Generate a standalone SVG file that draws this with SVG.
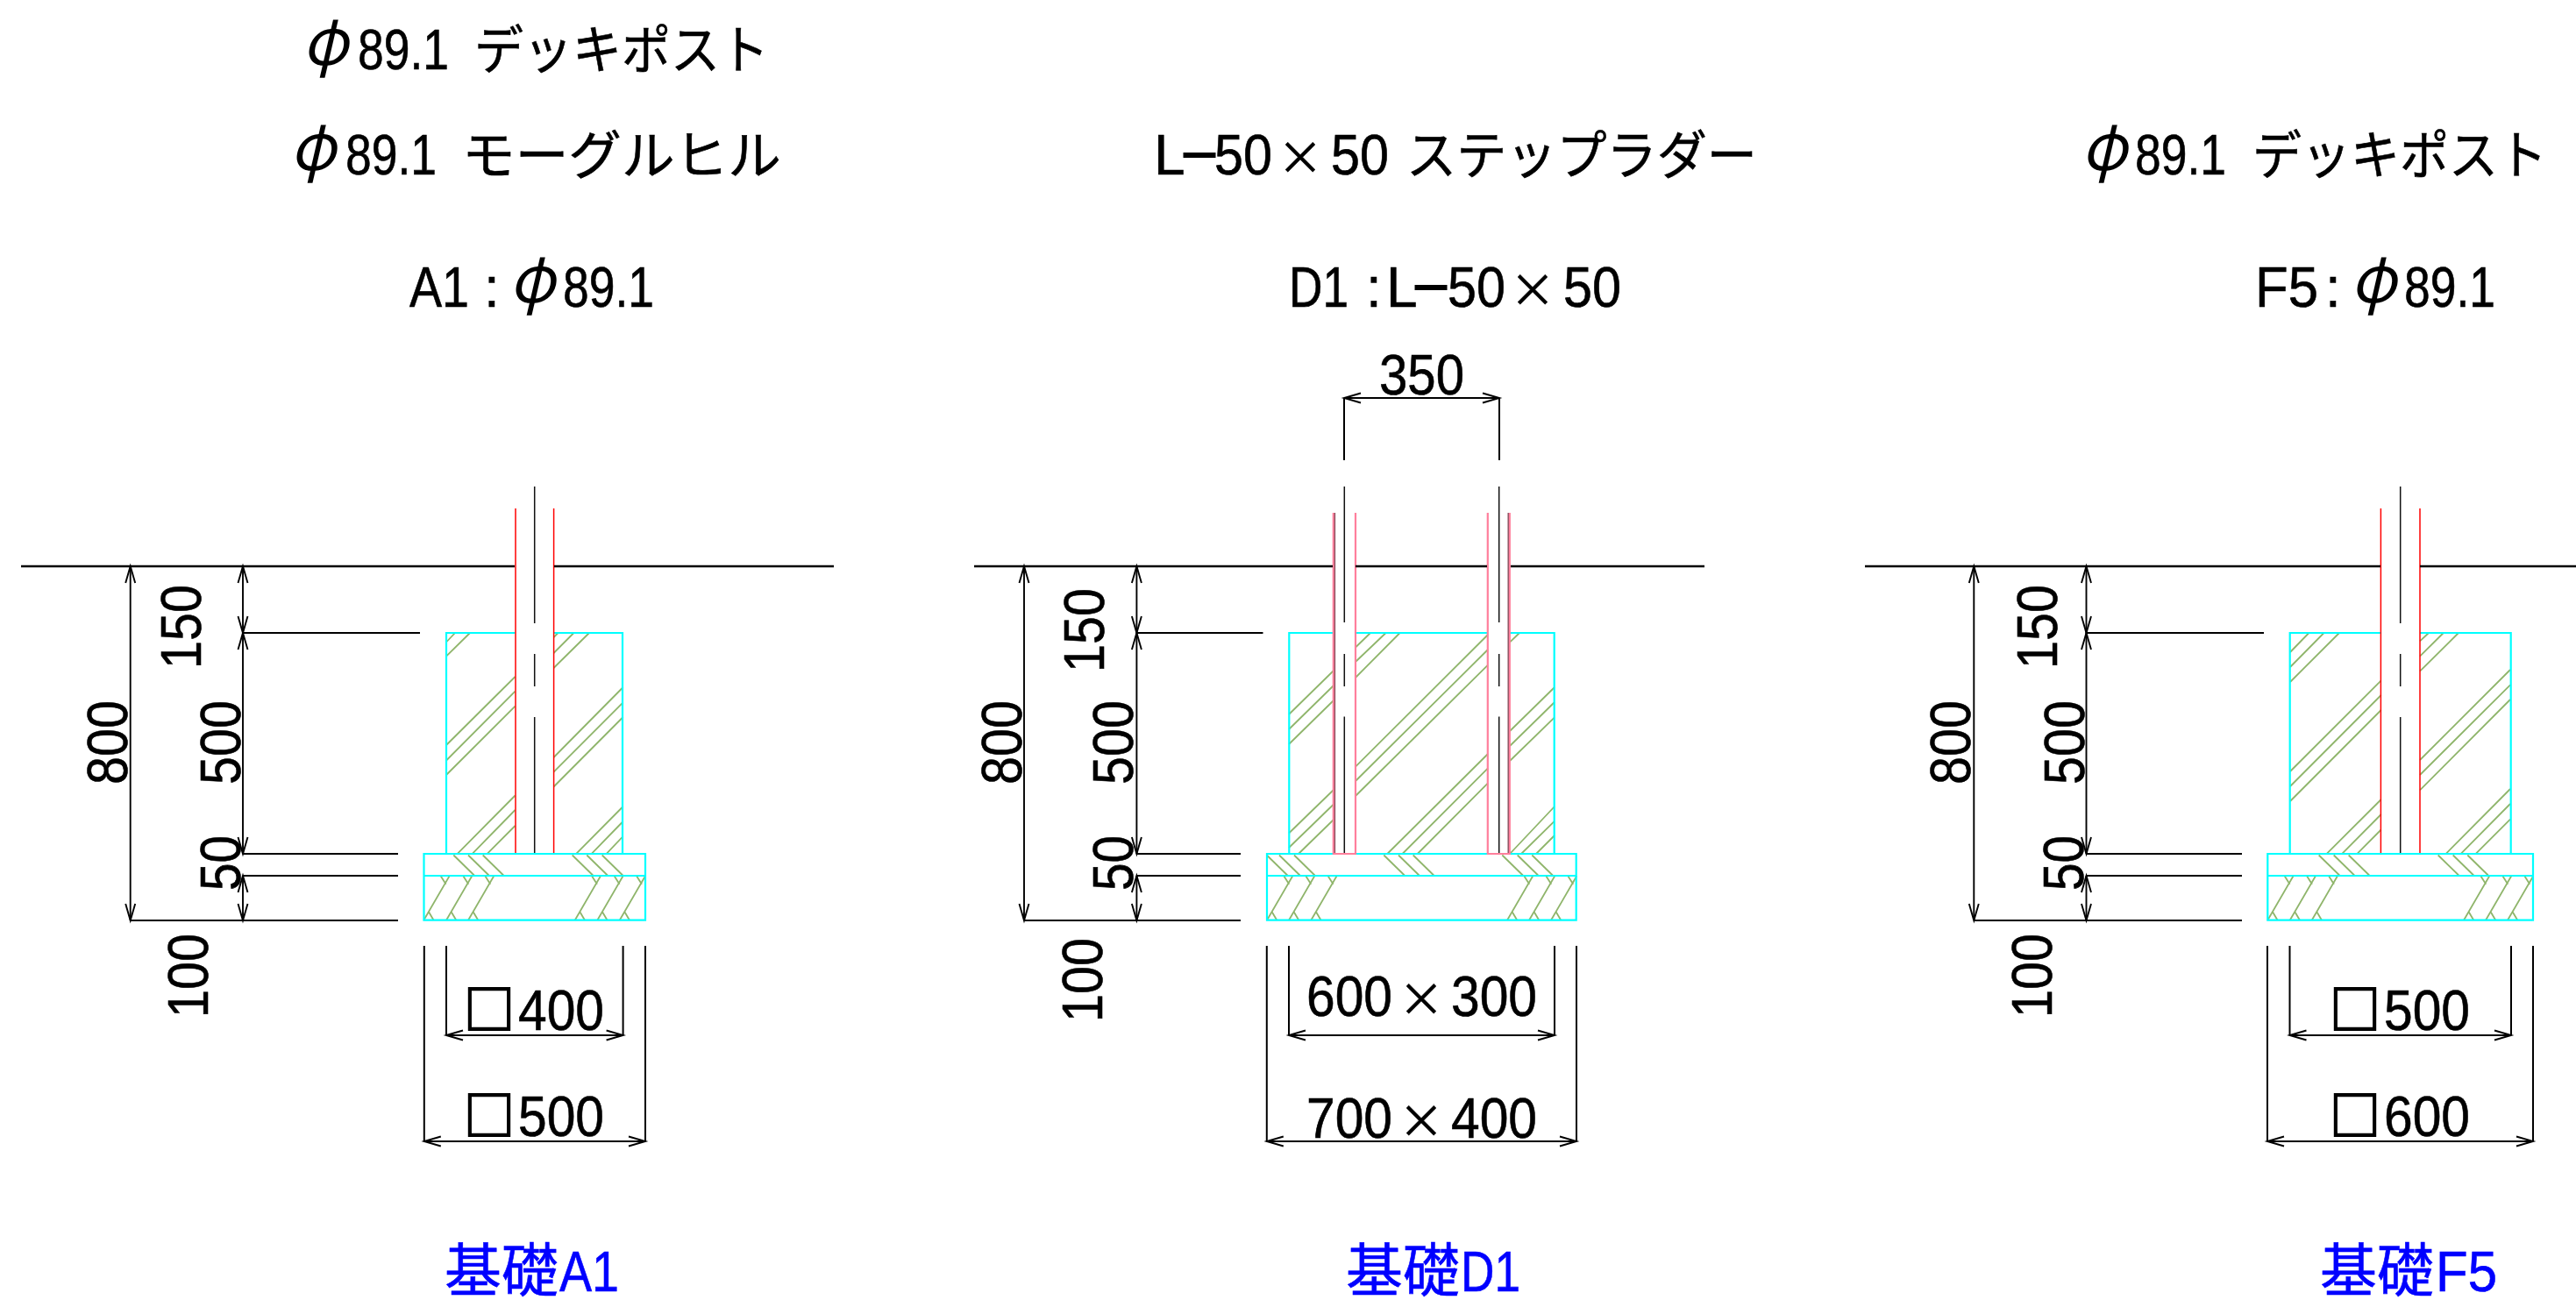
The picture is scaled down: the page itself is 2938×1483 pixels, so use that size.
<svg xmlns="http://www.w3.org/2000/svg" xmlns:xlink="http://www.w3.org/1999/xlink" width="2938" height="1483" viewBox="0 0 2938 1483">
<style>
text{font-family:"Liberation Sans","Noto Sans CJK JP",sans-serif;font-size:64px;fill:#000;stroke:#000;stroke-width:.6}
.c{font-family:"Noto Sans CJK JP",sans-serif;font-size:66px}
.k{font-family:"Noto Sans CJK JP",sans-serif;font-size:60px}
.m{font-family:"Noto Sans CJK JP",sans-serif;font-size:60px;stroke-width:2}
.x{font-family:"Noto Sans CJK JP",sans-serif;font-size:52px}
.q{font-family:"Noto Sans CJK JP",sans-serif;font-size:58px;stroke-width:2}
.p{font-family:"Noto Sans CJK JP",sans-serif;font-style:italic;font-size:74px;stroke-width:0}
text.b{fill:#00f;stroke:#00f}
.cy{fill:none;stroke:#0ff;stroke-width:2.2}
.ha{fill:none;stroke:#8fb56b;stroke-width:1.8}
.re{fill:none;stroke:#f00;stroke-width:1.5}
.pi{fill:none;stroke:#ff7f9c;stroke-width:2.2}
.gr{fill:none;stroke:#8a4a5a;stroke-width:1.4}
.cl{fill:none;stroke:#111;stroke-width:1.5}
.gl{fill:none;stroke:#000;stroke-width:2.4}
.ex{fill:none;stroke:#000;stroke-width:2}
.dm{fill:none;stroke:#000;stroke-width:1.9;marker-start:url(#ah);marker-end:url(#ah)}
</style>
<defs>
<marker id="ah" markerUnits="userSpaceOnUse" markerWidth="24" markerHeight="16" refX="22" refY="8" orient="auto-start-reverse" overflow="visible"><path d="M3 2.5L22 8L3 13.5" fill="none" stroke="#000" stroke-width="1.9"/></marker>
<g id="chev" class="ha"><path d="M0 0L29.3-50.4M19.3-50.4L25.3-41M6-9L11.3 0"/></g>
<path id="tk" class="ha" d="M0 0L23.5 23"/>
</defs>
<rect width="2938" height="1483" fill="#fff"/>

<g id="titles">
<text y="79"><tspan class="p" x="345" y="74" textLength="52" lengthAdjust="spacingAndGlyphs">φ</tspan><tspan x="408" y="79" textLength="104" lengthAdjust="spacingAndGlyphs">89.1</tspan><tspan class="k" x="541" textLength="336" lengthAdjust="spacingAndGlyphs">デッキポスト</tspan></text>
<text y="199"><tspan class="p" x="331" y="194" textLength="52" lengthAdjust="spacingAndGlyphs">φ</tspan><tspan x="394" y="199" textLength="104" lengthAdjust="spacingAndGlyphs">89.1</tspan><tspan class="k" x="527" textLength="364" lengthAdjust="spacingAndGlyphs">モーグルヒル</tspan></text>
<text y="350"><tspan x="467" textLength="68" lengthAdjust="spacingAndGlyphs">A1</tspan><tspan x="552">:</tspan><tspan class="p" x="581" y="345" textLength="52" lengthAdjust="spacingAndGlyphs">φ</tspan><tspan x="642" y="350" textLength="104" lengthAdjust="spacingAndGlyphs">89.1</tspan></text>
<text y="199"><tspan x="1316">L</tspan><tspan class="m" x="1348" textLength="40" lengthAdjust="spacingAndGlyphs">−</tspan><tspan x="1385" textLength="66" lengthAdjust="spacingAndGlyphs">50</tspan><tspan class="x" x="1457">×</tspan><tspan x="1518" textLength="66" lengthAdjust="spacingAndGlyphs">50</tspan><tspan class="k" x="1604" textLength="400" lengthAdjust="spacingAndGlyphs">ステップラダー</tspan></text>
<text y="350"><tspan x="1470" textLength="68" lengthAdjust="spacingAndGlyphs">D1</tspan><tspan x="1558">:</tspan><tspan x="1581">L</tspan><tspan class="m" x="1612" textLength="40" lengthAdjust="spacingAndGlyphs">−</tspan><tspan x="1651" textLength="66" lengthAdjust="spacingAndGlyphs">50</tspan><tspan class="x" x="1722">×</tspan><tspan x="1783" textLength="66" lengthAdjust="spacingAndGlyphs">50</tspan></text>
<text y="199"><tspan class="p" x="2374" y="194" textLength="52" lengthAdjust="spacingAndGlyphs">φ</tspan><tspan x="2435" y="199" textLength="104" lengthAdjust="spacingAndGlyphs">89.1</tspan><tspan class="k" x="2569" textLength="336" lengthAdjust="spacingAndGlyphs">デッキポスト</tspan></text>
<text y="350"><tspan x="2572" textLength="72" lengthAdjust="spacingAndGlyphs">F5</tspan><tspan x="2652">:</tspan><tspan class="p" x="2681" y="345" textLength="52" lengthAdjust="spacingAndGlyphs">φ</tspan><tspan x="2742" y="350" textLength="104" lengthAdjust="spacingAndGlyphs">89.1</tspan></text>
</g>

<g id="foundation-A1">
<path class="ha" d="M509 732.5L519 722M509 748.6L536 722M509 850L587.5 772M509 867.5L587.5 788.6M509 884L587.5 805.7M522 973.6L587.5 907.5M539 973.6L587.5 924M556 973.6L587.5 942M631.5 727L636.5 722M631.5 745L654.4 722M631.5 762L672 722M631.5 864L710.6 784M631.5 880.7L710.6 801.4M631.5 897.5L710.6 818M657.5 973.6L710.6 920M675 973.6L710.6 937M692 973.6L710.6 954"/>
<use xlink:href="#tk" x="517.3" y="975.5"/><use xlink:href="#tk" x="534" y="975.5"/><use xlink:href="#tk" x="550.7" y="975.5"/><use xlink:href="#tk" x="652.7" y="975.5"/><use xlink:href="#tk" x="669.3" y="975.5"/><use xlink:href="#tk" x="686.7" y="975.5"/>
<use xlink:href="#chev" x="483.3" y="1049.7"/><use xlink:href="#chev" x="509" y="1049.7"/><use xlink:href="#chev" x="534" y="1049.7"/><use xlink:href="#chev" x="655.7" y="1049.7"/><use xlink:href="#chev" x="681.3" y="1049.7"/><use xlink:href="#chev" x="706.7" y="1049.7"/>
<path class="cy" d="M587.5 722H509V974M631.5 722H710V974M483.5 974H736V1049.7H483.5ZM483.5 999H736"/>
<path class="re" d="M588 580V973M631.6 580V973"/>
<path class="cl" d="M609.7 555V711M609.7 746V783M609.7 818V973"/>
<path class="gl" d="M24 646H587M632 646H951"/>
</g>

<g id="foundation-D1">
<path class="ha" d="M1470 815L1521 765M1470 832L1521 782M1470 849L1521 799M1470 950.5L1521 901M1470 967L1521 917.5M1481 974L1521 935M1546 738.5L1563 722M1546 755L1580.6 722M1546 773L1596.6 722M1546 874.6L1697 724M1546 891L1697 741M1546 908L1697 758.6M1582.3 974L1697 860M1599.5 974L1697 876.4M1616.7 974L1697 893.4M1722 732.7L1733 722M1722 834L1773 784M1722 851L1773 801M1722 868L1773 818.4M1723 973L1773 920M1735 974L1773 936.7M1752 974L1773 953"/>
<use xlink:href="#tk" x="1445.3" y="976"/><use xlink:href="#tk" x="1459" y="975.5"/><use xlink:href="#tk" x="1476" y="975.5"/><use xlink:href="#tk" x="1578.3" y="975.5"/><use xlink:href="#tk" x="1595" y="975.5"/><use xlink:href="#tk" x="1611.7" y="975.5"/><use xlink:href="#tk" x="1713.3" y="975.5"/><use xlink:href="#tk" x="1730.7" y="975.5"/><use xlink:href="#tk" x="1747.3" y="975.5"/>
<use xlink:href="#chev" x="1445" y="1049.7"/><use xlink:href="#chev" x="1470" y="1049.7"/><use xlink:href="#chev" x="1495.3" y="1049.7"/><use xlink:href="#chev" x="1719" y="1049.7"/><use xlink:href="#chev" x="1744" y="1049.7"/><use xlink:href="#chev" x="1769" y="1049.7"/>
<path class="cy" d="M1521 722H1470.3V974M1546 722H1697M1722 722H1772.7V974M1445 974H1797.7V1049.7H1445ZM1445 999H1797.7"/>
<path class="pi" d="M1520.8 585V974H1546V585M1696.8 585V974H1721.8V585"/>
<path class="gr" d="M1522.4 585V973M1720.2 585V973"/>
<path class="cl" d="M1533.3 555V710M1533.3 746V783M1533.3 817.5V973M1709.7 555V710M1709.7 746V783M1709.7 817.5V973"/>
<path class="gl" d="M1111 646H1520M1546 646H1696M1723 646H1944"/>
</g>

<g id="foundation-F5">
<path class="ha" d="M2612 744L2633.4 722M2612 761L2650.5 722M2612 778L2668 722M2612 880L2715.7 776.4M2612 897L2715.7 793M2612 914L2715.7 810M2654 973.6L2715.7 912M2671.5 973.6L2715.7 929M2688.7 973.6L2715.7 946.5M2760 731.4L2770 722M2760 748.6L2786.8 722M2760 765.7L2804 722M2760 867L2863 764M2760 884L2863 781.4M2760 901.4L2863 798M2790 973.6L2863 900M2807 973.6L2863 917M2824 973.6L2863 934.7"/>
<use xlink:href="#tk" x="2644.7" y="975.5"/><use xlink:href="#tk" x="2661.7" y="975.5"/><use xlink:href="#tk" x="2678.7" y="975.5"/><use xlink:href="#tk" x="2780.7" y="975.5"/><use xlink:href="#tk" x="2797.7" y="975.5"/><use xlink:href="#tk" x="2814.3" y="975.5"/>
<use xlink:href="#chev" x="2586.3" y="1049.7"/><use xlink:href="#chev" x="2611.7" y="1049.7"/><use xlink:href="#chev" x="2636.7" y="1049.7"/><use xlink:href="#chev" x="2810" y="1049.7"/><use xlink:href="#chev" x="2835" y="1049.7"/><use xlink:href="#chev" x="2860" y="1049.7"/>
<path class="cy" d="M2715.5 722H2611.7V974M2760 722H2863.7V974M2586.3 974H2889V1049.7H2586.3ZM2586.3 999H2889"/>
<path class="re" d="M2715.4 580V973M2760 580V973"/>
<path class="cl" d="M2737.7 555V711M2737.7 746V783M2737.7 818V973"/>
<path class="gl" d="M2127 646H2715M2760 646H2938"/>
</g>

<g id="connectors">
<path class="ex" d="M277 722H479M277 974H454M277 999H454M148.7 1050H454M483.8 1079V1302M736 1079V1302M509 1079V1181M710.6 1079V1181"/>
<line class="dm" x1="148.7" y1="646" x2="148.7" y2="1050"/><line class="dm" x1="277" y1="646" x2="277" y2="722"/><line class="dm" x1="277" y1="722" x2="277" y2="974"/><line class="dm" x1="277" y1="999" x2="277" y2="1050"/>
<line class="dm" x1="509" y1="1181" x2="710.6" y2="1181"/><line class="dm" x1="483.8" y1="1302" x2="736" y2="1302"/>

<path class="ex" d="M1296.4 722H1440.5M1296.4 974H1415M1296.4 999H1415M1168 1050H1415M1444.8 1079V1302M1798 1079V1302M1470 1079V1181M1773 1079V1181M1533 454V525M1710 454V525"/>
<line class="dm" x1="1168" y1="646" x2="1168" y2="1050"/><line class="dm" x1="1296.4" y1="646" x2="1296.4" y2="722"/><line class="dm" x1="1296.4" y1="722" x2="1296.4" y2="974"/><line class="dm" x1="1296.4" y1="999" x2="1296.4" y2="1050"/>
<line class="dm" x1="1470" y1="1181" x2="1773" y2="1181"/><line class="dm" x1="1444.8" y1="1302" x2="1798" y2="1302"/><line class="dm" x1="1533" y1="454" x2="1710" y2="454"/>

<path class="ex" d="M2379.5 722H2582M2379.5 974H2557M2379.5 999H2557M2251.3 1050H2557M2586 1079V1302M2889 1079V1302M2611.5 1079V1181M2864 1079V1181"/>
<line class="dm" x1="2251.3" y1="646" x2="2251.3" y2="1050"/><line class="dm" x1="2379.5" y1="646" x2="2379.5" y2="722"/><line class="dm" x1="2379.5" y1="722" x2="2379.5" y2="974"/><line class="dm" x1="2379.5" y1="999" x2="2379.5" y2="1050"/>
<line class="dm" x1="2611.5" y1="1181" x2="2864" y2="1181"/><line class="dm" x1="2586" y1="1302" x2="2889" y2="1302"/>
</g>

<g id="labels">
<text transform="translate(145,895) rotate(-90)" textLength="96" lengthAdjust="spacingAndGlyphs">800</text>
<text transform="translate(229,763) rotate(-90)" textLength="96" lengthAdjust="spacingAndGlyphs">150</text>
<text transform="translate(274,895) rotate(-90)" textLength="96" lengthAdjust="spacingAndGlyphs">500</text>
<text transform="translate(274,1016) rotate(-90)" textLength="63" lengthAdjust="spacingAndGlyphs">50</text>
<text transform="translate(237,1161) rotate(-90)" textLength="96" lengthAdjust="spacingAndGlyphs">100</text>

<text transform="translate(1165,895) rotate(-90)" textLength="96" lengthAdjust="spacingAndGlyphs">800</text>
<text transform="translate(1259,767) rotate(-90)" textLength="96" lengthAdjust="spacingAndGlyphs">150</text>
<text transform="translate(1292.4,895) rotate(-90)" textLength="96" lengthAdjust="spacingAndGlyphs">500</text>
<text transform="translate(1292,1016) rotate(-90)" textLength="63" lengthAdjust="spacingAndGlyphs">50</text>
<text transform="translate(1256.5,1166) rotate(-90)" textLength="96" lengthAdjust="spacingAndGlyphs">100</text>

<text transform="translate(2247,895) rotate(-90)" textLength="96" lengthAdjust="spacingAndGlyphs">800</text>
<text transform="translate(2346,763) rotate(-90)" textLength="96" lengthAdjust="spacingAndGlyphs">150</text>
<text transform="translate(2377,895) rotate(-90)" textLength="96" lengthAdjust="spacingAndGlyphs">500</text>
<text transform="translate(2376,1016) rotate(-90)" textLength="63" lengthAdjust="spacingAndGlyphs">50</text>
<text transform="translate(2340,1161) rotate(-90)" textLength="96" lengthAdjust="spacingAndGlyphs">100</text>

<text x="1573" y="450" textLength="97" lengthAdjust="spacingAndGlyphs">350</text>

<text y="1175"><tspan class="q" x="529" y="1173">□</tspan><tspan x="591" y="1175" textLength="98" lengthAdjust="spacingAndGlyphs">400</tspan></text>
<text y="1296"><tspan class="q" x="529" y="1294">□</tspan><tspan x="591" y="1296" textLength="98" lengthAdjust="spacingAndGlyphs">500</tspan></text>
<text y="1159"><tspan x="1490" textLength="98" lengthAdjust="spacingAndGlyphs">600</tspan><tspan class="x" x="1595">×</tspan><tspan x="1655" textLength="98" lengthAdjust="spacingAndGlyphs">300</tspan></text>
<text y="1298"><tspan x="1490" textLength="98" lengthAdjust="spacingAndGlyphs">700</tspan><tspan class="x" x="1595">×</tspan><tspan x="1655" textLength="98" lengthAdjust="spacingAndGlyphs">400</tspan></text>
<text y="1175"><tspan class="q" x="2657" y="1173">□</tspan><tspan x="2719" y="1175" textLength="98" lengthAdjust="spacingAndGlyphs">500</tspan></text>
<text y="1296"><tspan class="q" x="2657" y="1294">□</tspan><tspan x="2719" y="1296" textLength="98" lengthAdjust="spacingAndGlyphs">600</tspan></text>

<text class="b" y="1473"><tspan class="c" x="507" textLength="130" lengthAdjust="spacingAndGlyphs">基礎</tspan><tspan x="638" textLength="68" lengthAdjust="spacingAndGlyphs">A1</tspan></text>
<text class="b" y="1473"><tspan class="c" x="1535" textLength="130" lengthAdjust="spacingAndGlyphs">基礎</tspan><tspan x="1666" textLength="68" lengthAdjust="spacingAndGlyphs">D1</tspan></text>
<text class="b" y="1473"><tspan class="c" x="2646" textLength="130" lengthAdjust="spacingAndGlyphs">基礎</tspan><tspan x="2778" textLength="70" lengthAdjust="spacingAndGlyphs">F5</tspan></text>
</g>
</svg>
